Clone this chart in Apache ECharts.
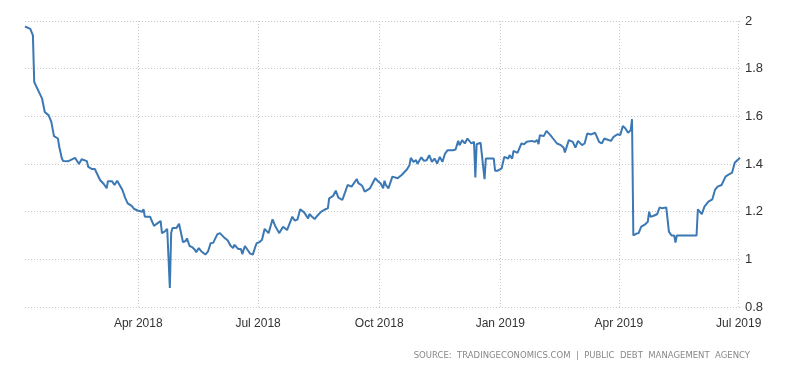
<!DOCTYPE html>
<html>
<head>
<meta charset="utf-8">
<script src="https://cdn.jsdelivr.net/npm/echarts@6/dist/echarts.min.js"></script>
<style>html,body{margin:0;padding:0;background:#fff}#c{width:800px;height:373px}</style>
</head>
<body>
<div id="c"></div>
<script>
const dates = [
'2018-01-05','2018-01-09','2018-01-11','2018-01-12','2018-01-13','2018-01-15','2018-01-18','2018-01-20','2018-01-23','2018-01-25','2018-01-27','2018-01-30','2018-01-31',
'2018-02-02','2018-02-03','2018-02-07','2018-02-08','2018-02-12','2018-02-15','2018-02-17','2018-02-21','2018-02-22','2018-02-25','2018-02-27',
'2018-03-03','2018-03-06','2018-03-08','2018-03-09','2018-03-12','2018-03-14','2018-03-16','2018-03-20','2018-03-22','2018-03-24','2018-03-27','2018-03-29',
'2018-04-01','2018-04-04','2018-04-05','2018-04-06','2018-04-10','2018-04-11','2018-04-13','2018-04-15','2018-04-18','2018-04-19','2018-04-21','2018-04-23','2018-04-24','2018-04-25','2018-04-26','2018-04-27','2018-04-30',
'2018-05-02','2018-05-05','2018-05-07','2018-05-08','2018-05-10','2018-05-12','2018-05-14','2018-05-15','2018-05-17','2018-05-19','2018-05-22','2018-05-24','2018-05-26','2018-05-28','2018-05-29','2018-05-31',
'2018-06-02','2018-06-05','2018-06-06','2018-06-08','2018-06-10','2018-06-12','2018-06-13','2018-06-16','2018-06-18','2018-06-19','2018-06-21','2018-06-23','2018-06-25','2018-06-27','2018-06-29','2018-06-30',
'2018-07-02','2018-07-04','2018-07-06','2018-07-09','2018-07-12','2018-07-14','2018-07-17','2018-07-18','2018-07-20','2018-07-23','2018-07-27','2018-07-29','2018-07-31',
'2018-08-02','2018-08-05','2018-08-08','2018-08-09','2018-08-11','2018-08-13','2018-08-15','2018-08-18','2018-08-21','2018-08-23','2018-08-24','2018-08-27','2018-08-29','2018-08-31',
'2018-09-03','2018-09-05','2018-09-07','2018-09-10','2018-09-14','2018-09-15','2018-09-18','2018-09-20','2018-09-24','2018-09-25','2018-09-28','2018-09-30',
'2018-10-02','2018-10-04','2018-10-05','2018-10-06','2018-10-08','2018-10-11','2018-10-15','2018-10-18','2018-10-22','2018-10-24','2018-10-25','2018-10-27','2018-10-29','2018-10-30',
'2018-11-02','2018-11-04','2018-11-06','2018-11-08','2018-11-10','2018-11-12','2018-11-14','2018-11-16','2018-11-18','2018-11-20','2018-11-22','2018-11-26','2018-11-28','2018-11-30',
'2018-12-01','2018-12-03','2018-12-05','2018-12-07','2018-12-10','2018-12-12','2018-12-13','2018-12-14','2018-12-17','2018-12-18','2018-12-20','2018-12-21','2018-12-24','2018-12-27','2018-12-28','2018-12-30',
'2019-01-02','2019-01-04','2019-01-07','2019-01-08','2019-01-10','2019-01-11','2019-01-14','2019-01-17','2019-01-19','2019-01-21','2019-01-22','2019-01-25','2019-01-27','2019-01-29','2019-01-30','2019-01-31',
'2019-02-03','2019-02-04','2019-02-05','2019-02-08','2019-02-10','2019-02-13','2019-02-16','2019-02-18','2019-02-19','2019-02-22','2019-02-25','2019-02-27',
'2019-03-01','2019-03-04','2019-03-06','2019-03-08','2019-03-11','2019-03-12','2019-03-14','2019-03-17','2019-03-18','2019-03-19','2019-03-21','2019-03-23','2019-03-26','2019-03-28','2019-03-31',
'2019-04-02','2019-04-04','2019-04-06','2019-04-08','2019-04-10','2019-04-11','2019-04-12','2019-04-14','2019-04-16','2019-04-18','2019-04-21','2019-04-23','2019-04-24','2019-04-25','2019-04-27','2019-04-30',
'2019-05-02','2019-05-04','2019-05-07','2019-05-09','2019-05-11','2019-05-13','2019-05-14','2019-05-15','2019-05-30','2019-05-31',
'2019-06-03','2019-06-05','2019-06-08','2019-06-11','2019-06-13','2019-06-15','2019-06-18','2019-06-21','2019-06-24','2019-06-26','2019-06-28','2019-06-30','2019-07-02'
];
const yields = [
1.977,1.967,1.94,1.744,1.737,1.709,1.674,1.618,1.604,1.577,1.517,1.507,1.472,
1.423,1.413,1.412,1.407,1.426,1.40,1.42,1.412,1.388,1.379,1.379,
1.333,1.315,1.298,1.328,1.328,1.312,1.330,1.291,1.259,1.235,1.224,1.211,
1.204,1.20,1.21,1.179,1.179,1.165,1.14,1.149,1.161,1.11,1.116,1.128,1.123,0.88,1.11,1.131,1.131,
1.149,1.072,1.077,1.088,1.056,1.051,1.04,1.03,1.047,1.033,1.02,1.033,1.068,1.07,1.07,1.105,
1.11,1.093,1.085,1.079,1.058,1.047,1.061,1.043,1.043,1.022,1.056,1.04,1.024,1.02,1.054,1.068,
1.072,1.082,1.128,1.11,1.168,1.14,1.11,1.103,1.137,1.123,1.179,1.162,1.168,
1.21,1.197,1.171,1.19,1.179,1.169,1.183,1.20,1.21,1.214,1.256,1.266,1.288,1.259,
1.249,1.28,1.312,1.305,1.337,1.321,1.309,1.284,1.298,1.305,1.34,1.328,
1.319,1.298,1.33,1.312,1.298,1.347,1.34,1.354,1.377,1.395,1.426,1.409,1.416,1.40,
1.428,1.413,1.416,1.437,1.409,1.423,1.402,1.43,1.409,1.444,1.458,1.458,1.461,1.497,
1.479,1.50,1.486,1.507,1.486,1.493,1.344,1.483,1.489,1.489,1.336,1.423,1.423,1.423,1.372,1.372,
1.382,1.43,1.423,1.437,1.423,1.455,1.447,1.486,1.483,1.493,1.486,1.497,1.493,1.50,1.483,1.521,
1.517,1.514,1.539,1.521,1.507,1.486,1.479,1.469,1.448,1.50,1.493,1.469,
1.497,1.479,1.486,1.528,1.524,1.517,1.531,1.493,1.50,1.486,1.507,1.503,1.497,1.514,1.525,
1.521,1.559,1.549,1.531,1.542,1.588,1.10,1.107,1.11,1.137,1.147,1.158,1.20,1.179,1.182,1.189,
1.218,1.214,1.218,1.116,1.10,1.10,1.07,1.10,1.10,1.21,
1.19,1.221,1.242,1.252,1.291,1.305,1.312,1.347,1.358,1.364,1.405,1.416,1.426
];
const tickDates = ['2018-04-01','2018-07-01','2018-10-01','2019-01-01','2019-04-01','2019-07-01'];
const monthNames = ['Jan','Feb','Mar','Apr','May','Jun','Jul','Aug','Sep','Oct','Nov','Dec'];
const sourceText = 'SOURCE:  TRADINGECONOMICS.COM  |  PUBLIC  DEBT  MANAGEMENT  AGENCY';

const toTs = d => new Date(d + 'T00:00:00Z').getTime();
const tickValues = tickDates.map(toTs);
const seriesData = dates.map((d, i) => [toTs(d), yields[i]]);

const chart = echarts.init(document.getElementById('c'), null, {renderer: 'canvas'});
chart.setOption({
  animation: false,
  backgroundColor: '#ffffff',
  grid: {left: 25, right: 60, top: 21, bottom: 66},
  xAxis: {
    type: 'value',
    min: 'dataMin',
    max: 'dataMax',
    scale: true,
    axisLine: {show: false},
    axisTick: {show: false, customValues: tickValues},
    axisLabel: {
      customValues: tickValues,
      color: '#333',
      fontFamily: 'Liberation Sans',
      fontSize: 12,
      margin: 11,
      formatter: function (v) {
        const d = new Date(v);
        return monthNames[d.getUTCMonth()] + ' ' + d.getUTCFullYear();
      }
    },
    splitLine: {show: true, lineStyle: {color: '#c8c8c8', type: [1, 2], width: 1}}
  },
  yAxis: {
    type: 'value',
    position: 'right',
    min: 0.8,
    max: 2,
    interval: 0.2,
    axisLine: {show: false},
    axisTick: {show: false},
    axisLabel: {
      color: '#333',
      fontFamily: 'Liberation Sans',
      fontSize: 13,
      margin: 5,
      formatter: v => String(Math.round(v * 10) / 10)
    },
    splitLine: {show: true, lineStyle: {color: '#c8c8c8', type: [1, 2], width: 1}}
  },
  series: [{
    type: 'line',
    data: seriesData,
    showSymbol: false,
    lineStyle: {color: '#3b78b4', width: 2},
    itemStyle: {color: '#3b78b4'}
  }],
  graphic: [{
    type: 'text',
    right: 50,
    top: 351,
    style: {
      text: sourceText,
      fill: '#888',
      font: '8.5px "DejaVu Sans"'
    }
  }]
});
</script>
</body>
</html>
